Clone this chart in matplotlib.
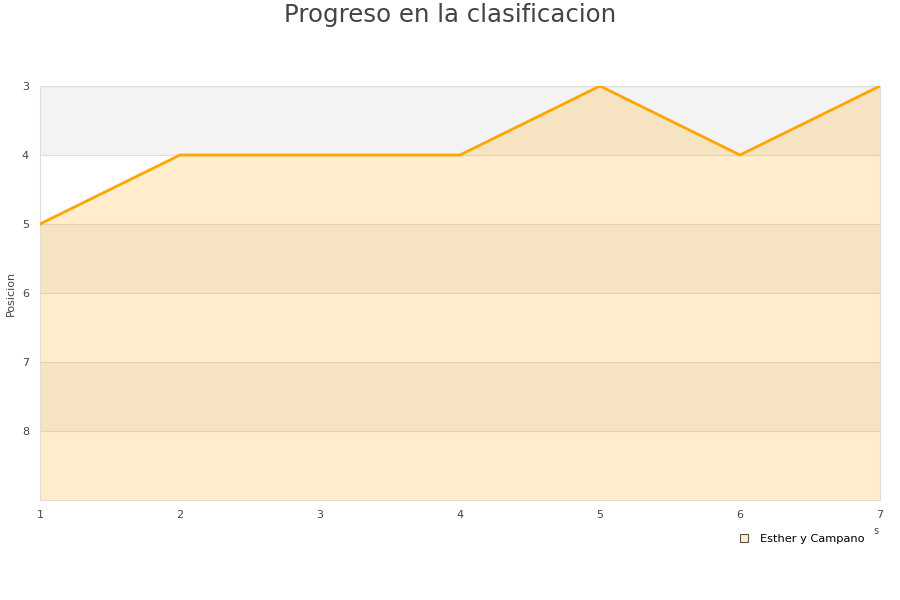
import matplotlib.pyplot as plt
from matplotlib.lines import Line2D

jornadas = [1, 2, 3, 4, 5, 6, 7]
posicion = [5, 4, 4, 4, 3, 4, 3]
serie = 'Esther y Campano'

fig = plt.figure(figsize=(9, 6), dpi=100)
ax = fig.add_axes([40 / 900, 100 / 600, 840 / 900, 414 / 600])

# bandas alternas del fondo
for i, y0 in enumerate(range(3, 9)):
    if i % 2 == 0:
        ax.axhspan(y0, y0 + 1, color='#f3f3f3', zorder=0, lw=0)
    ax.axhline(y0, color='#dddddd', lw=0.8, zorder=1)

ax.fill_between(jornadas, posicion, 9, color='orange', alpha=0.2, lw=0, zorder=2)
ax.plot(jornadas, posicion, color='orange', lw=2, zorder=3)

ax.set_xlim(1, 7)
ax.set_ylim(9, 3)
ax.set_yticks([3, 4, 5, 6, 7, 8])
ax.set_xticks(jornadas)
ax.tick_params(length=0, labelsize=8, colors='#444444', pad=7.5)
ax.tick_params(axis='y', pad=8)
for s in ax.spines.values():
    s.set_color('#dddddd')
    s.set_linewidth(0.8)

fig.text(11 / 900, 1 - 293 / 600, 'Posicion', rotation=90, ha='center', va='center',
         fontsize=8, color='#444444')
fig.text(0.5, 1 - 15 / 600, 'Progreso en la clasificacion', ha='center', va='center',
         fontsize=17.6, color='#444444')
fig.text(873 / 900, 1 - 531 / 600, 's', fontsize=7, color='#444444', ha='left', va='center')

handle = Line2D([], [], marker='s', ls='none', markersize=6,
                markerfacecolor='#ffedcc', markeredgecolor='#555555', markeredgewidth=0.8)
fig.legend([handle], [serie], loc='center left', bbox_to_anchor=(722 / 900, 1 - 539 / 600),
           frameon=False, fontsize=8.2, handletextpad=0.4)

fig.savefig('out.png', dpi=100)
